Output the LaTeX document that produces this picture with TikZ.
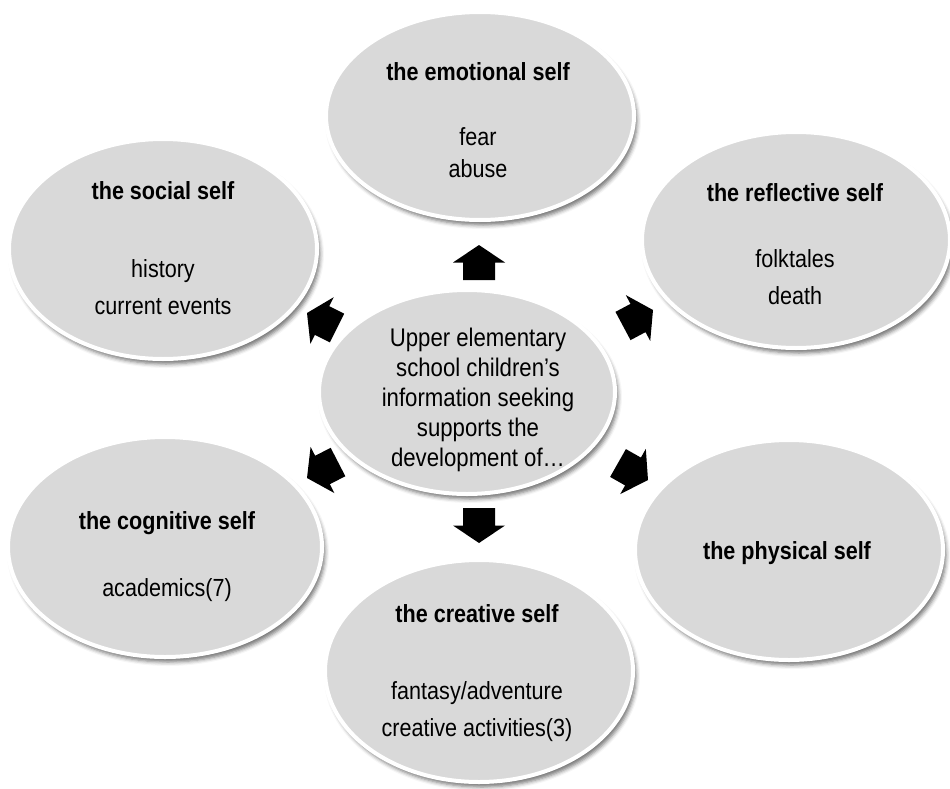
\documentclass[tikz,border=0pt]{standalone}
\usepackage{fontspec}
\setmainfont{Liberation Sans}[FakeStretch=0.87]
\usetikzlibrary{shapes.geometric,calc,shadows.blur}
\definecolor{bubblegrey}{RGB}{217,217,217}
\tikzset{
 bubble/.style={ellipse, fill=bubblegrey, draw=white, line width=4pt, inner sep=0pt,
   blur shadow={shadow xshift=3pt, shadow yshift=-5pt, shadow blur radius=4pt, shadow opacity=55}},
 ttl/.style={font=\fontsize{24.8}{28}\selectfont\bfseries, inner sep=0pt, anchor=base},
 itm/.style={font=\fontsize{24.8}{28}\selectfont, inner sep=0pt, anchor=base},
 ctr/.style={font=\fontsize{25.5}{30}\selectfont, align=center, inner sep=0pt},
 blockfill/.style={fill=black}
}
\newcommand\blockarrow[2]{%
  \coordinate (#1h) at ($(#1)!0.5!(#2)$);
  \fill[blockfill] ($(#1)!16pt!90:(#2)$) -- ($(#1h)!16pt!90:(#2)$) -- ($(#1h)!26pt!90:(#2)$) -- (#2)
    -- ($(#1h)!26pt!-90:(#2)$) -- ($(#1h)!16pt!-90:(#2)$) -- ($(#1)!16pt!-90:(#2)$) -- cycle;}
\begin{document}
\begin{tikzpicture}[x=1pt,y=-1pt]
\useasboundingbox (0,0) rectangle (950,789);
% bubbles
\node[bubble, minimum width=308pt, minimum height=208pt] (emo) at (480,116) {};
\node[bubble, minimum width=308pt, minimum height=220pt] (soc) at (163,249) {};
\node[bubble, minimum width=308pt, minimum height=216pt] (ref) at (796,240) {};
\node[bubble, minimum width=314pt, minimum height=220pt] (cog) at (165,547) {};
\node[bubble, minimum width=308pt, minimum height=220pt] (phy) at (789,550) {};
\node[bubble, minimum width=308pt, minimum height=222pt] (cre) at (479,671) {};
\node[bubble, minimum width=296pt, minimum height=204pt] (cen) at (467,392) {};
% texts
\node[ttl] (emoT) at (478,81) {the emotional self};
\node[itm] (emo1) at (478,146) {fear};
\node[itm] (emo2) at (478,177) {abuse};
\node[ttl] (socT) at (163,199) {the social self};
\node[itm] (soc1) at (163,277) {history};
\node[itm] (soc2) at (163,314) {current events};
\node[ttl] (refT) at (795,201) {the reflective self};
\node[itm] (ref1) at (795,267) {folktales};
\node[itm] (ref2) at (795,304) {death};
\node[ttl] (cogT) at (167,529) {the cognitive self};
\node[itm] (cog1) at (167,596) {academics(7)};
\node[ttl] (creT) at (477,622) {the creative self};
\node[itm] (cre1) at (477,699) {fantasy/adventure};
\node[itm] (cre2) at (477,736) {creative activities(3)};
\node[ttl] (phyT) at (787,559) {the physical self};
\node[ctr] (cenT) at (478,400) {Upper elementary\\school children’s\\information seeking\\supports the\\development of…};
% arrows
\coordinate (aU) at (479,280); \coordinate (aUt) at (479,245);
\coordinate (aD) at (479,508); \coordinate (aDt) at (479,543);
\coordinate (aUL) at (337,328); \coordinate (aULt) at (307,313);
\coordinate (aUR) at (623,326); \coordinate (aURt) at (653,310);
\coordinate (aLL) at (338,462); \coordinate (aLLt) at (307,478);
\coordinate (aLR) at (618,463); \coordinate (aLRt) at (648,480);
\blockarrow{aU}{aUt}
\blockarrow{aD}{aDt}
\blockarrow{aUL}{aULt}
\blockarrow{aUR}{aURt}
\blockarrow{aLL}{aLLt}
\blockarrow{aLR}{aLRt}
\end{tikzpicture}
\end{document}
